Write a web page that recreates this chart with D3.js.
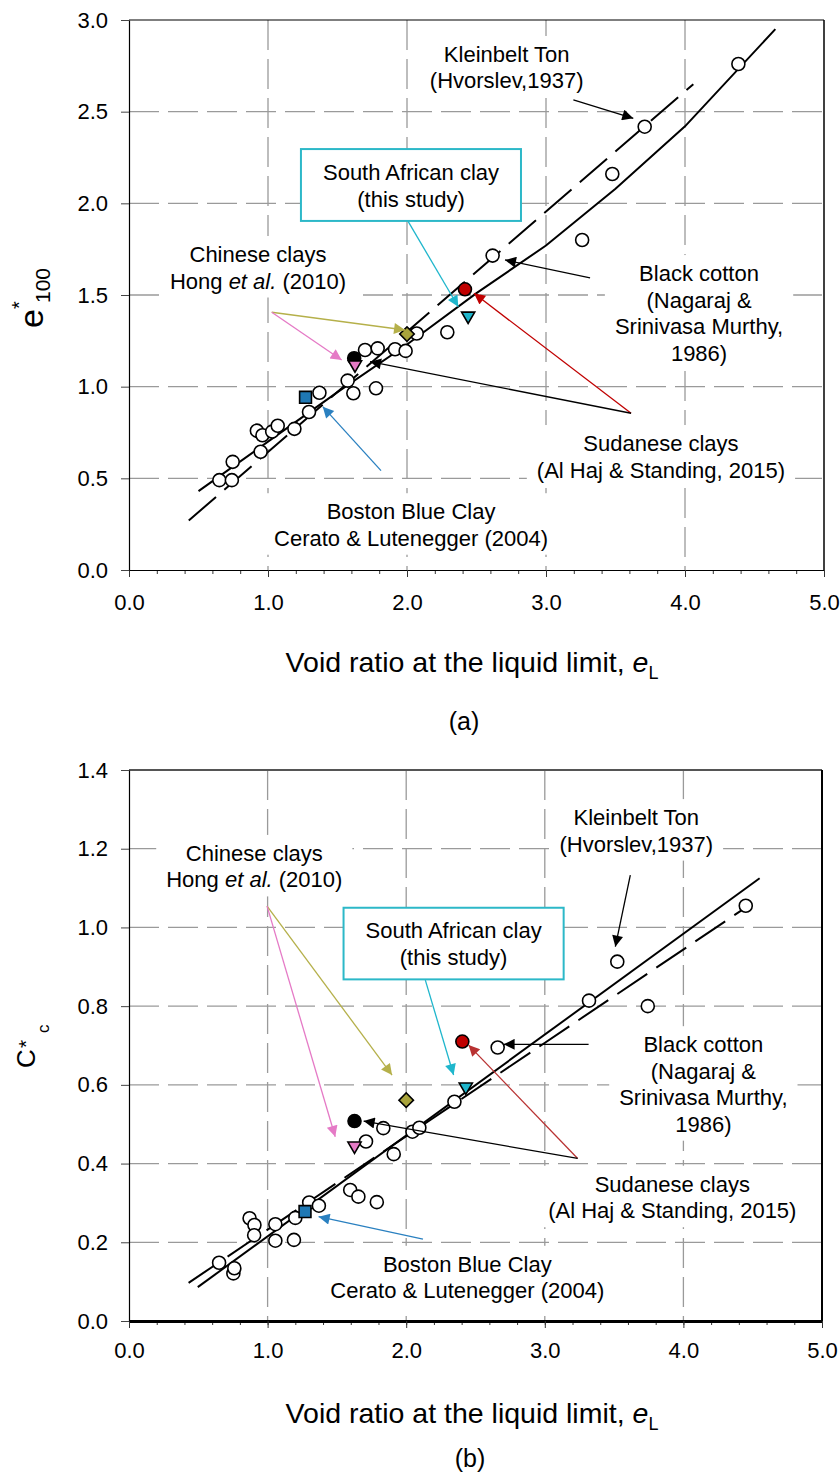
<!DOCTYPE html>
<html>
<head>
<meta charset="utf-8">
<script src="https://cdn.jsdelivr.net/npm/d3@7"></script>
<style>
  body { margin: 0; background: #fff; }
  svg { display: block; font-family: "Liberation Sans", Arial, Helvetica, sans-serif; }
</style>
</head>
<body>
<svg width="840" height="1474"></svg>
<script>
// ---------- data ----------
const xTicks = [0, 1, 2, 3, 4, 5];
const yTicksA = [0, 0.5, 1, 1.5, 2, 2.5, 3];
const yTicksB = [0, 0.2, 0.4, 0.6, 0.8, 1.0, 1.2, 1.4];

// (a) e*100 vs eL
const openA = [
  [0.65, 0.49], [0.74, 0.49], [0.746, 0.59], [0.947, 0.645], [0.92, 0.76],
  [0.96, 0.735], [1.03, 0.755], [1.07, 0.787], [1.19, 0.77], [1.295, 0.862],
  [1.37, 0.967], [1.573, 1.033], [1.614, 0.964], [1.698, 1.2], [1.789, 1.209],
  [1.777, 0.991], [1.914, 1.204], [1.99, 1.195], [2.07, 1.29], [2.29, 1.297],
  [2.616, 1.715], [3.26, 1.80], [3.477, 2.16], [3.71, 2.418], [4.384, 2.76]
];
const sudanBlackA = [[1.62, 1.155]];
const sudanRedA = [[2.417, 1.531]];
const chinaPinkA = [[1.626, 1.12]];
const chinaOliveA = [[2.0, 1.287]];
const southAfricaA = [[2.44, 1.386]];
const bostonA = [[1.27, 0.942]];
const fitSolidA = [[0.5, 0.43], [1.0, 0.70], [1.5, 0.97], [2.0, 1.23], [2.5, 1.51],
  [3.0, 1.77], [3.5, 2.08], [4.0, 2.42], [4.65, 2.95]];
const fitDashedA = [[0.43, 0.27], [4.06, 2.65]];

// (b) C*c vs eL
const openB = [
  [0.65, 0.148], [0.753, 0.121], [0.76, 0.134], [0.87, 0.261], [0.905, 0.244],
  [0.903, 0.218], [1.056, 0.246], [1.056, 0.204], [1.19, 0.206], [1.2, 0.262],
  [1.3, 0.301], [1.37, 0.293], [1.596, 0.333], [1.655, 0.316], [1.788, 0.302],
  [1.91, 0.424], [1.71, 0.456], [1.835, 0.49], [2.045, 0.481], [2.095, 0.491],
  [2.348, 0.557], [2.66, 0.695], [3.319, 0.814], [3.523, 0.913], [3.743, 0.80],
  [4.45, 1.055]
];
const sudanBlackB = [[1.627, 0.508]];
const sudanRedB = [[2.405, 0.71]];
const chinaPinkB = [[1.627, 0.445]];
const chinaOliveB = [[2.0, 0.561]];
const southAfricaB = [[2.43, 0.595]];
const bostonB = [[1.27, 0.278]];
const fitSolidB = [[0.496, 0.086], [4.55, 1.125]];
const fitDashedB = [[0.43, 0.097], [4.43, 1.046]];

// ---------- colours ----------
const C = {
  red: '#c00000', red2: '#b83232', olive: '#a9a43c', oliveLine: '#b5b04a',
  pink: '#e57ac6', cyan: '#1fb6cc', box: '#2cb8c8', blue: '#1f78b4', blueLine: '#2a80c0'
};

// annotations (in data units)
const notesA = [
  { lines: ['Kleinbelt Ton', '(Hvorslev,1937)'], x: 2.717, y: 2.771 },
  { lines: ['Chinese clays', 'Hong _et al._ (2010)'], x: 0.928, y: 1.68 },
  { lines: ['Black cotton', '(Nagaraj &', 'Srinivasa Murthy,', '1986)'], x: 4.101, y: 1.576 },
  { lines: ['Sudanese clays', '(Al Haj & Standing, 2015)'], x: 3.827, y: 0.649 },
  { lines: ['Boston Blue Clay', 'Cerato & Lutenegger (2004)'], x: 2.029, y: 0.277 },
  { lines: ['South African clay', '(this study)'], x: 2.029, y: 2.127, box: [1.237, 2.820, 1.904, 2.296] }
];
const arrowsA = [
  { from: [3.197, 2.564], to: [3.628, 2.464], color: '#000' },
  { from: [2.009, 1.900], to: [2.369, 1.436], color: C.cyan },
  { from: [1.027, 1.406], to: [1.986, 1.309], color: C.oliveLine },
  { from: [1.027, 1.406], to: [1.530, 1.145], color: C.pink },
  { from: [3.317, 1.594], to: [2.705, 1.691], color: '#000' },
  { from: [3.612, 0.855], to: [2.482, 1.509], color: C.red },
  { from: [3.612, 0.855], to: [1.734, 1.136], color: '#000' },
  { from: [1.813, 0.542], to: [1.394, 0.891], color: C.blueLine }
];
const notesB = [
  { lines: ['Kleinbelt Ton', '(Hvorslev,1937)'], x: 3.660, y: 1.260 },
  { lines: ['Chinese clays', 'Hong _et al._ (2010)'], x: 0.904, y: 1.169 },
  { lines: ['Black cotton', '(Nagaraj &', 'Srinivasa Murthy,', '1986)'], x: 4.144, y: 0.683 },
  { lines: ['Sudanese clays', '(Al Haj & Standing, 2015)'], x: 3.920, y: 0.3285 },
  { lines: ['Boston Blue Clay', 'Cerato & Lutenegger (2004)'], x: 2.441, y: 0.125 },
  { lines: ['South African clay', '(this study)'], x: 2.342, y: 0.973, box: [1.548, 3.136, 0.868, 1.050] }
];
const arrowsB = [
  { from: [3.617, 1.133], to: [3.509, 0.951], color: '#000' },
  { from: [0.996, 1.054], to: [1.898, 0.625], color: C.oliveLine },
  { from: [0.996, 1.054], to: [1.488, 0.468], color: C.pink },
  { from: [2.138, 0.866], to: [2.342, 0.625], color: C.cyan },
  { from: [3.316, 0.703], to: [2.703, 0.703], color: '#000' },
  { from: [3.237, 0.413], to: [2.450, 0.701], color: C.red2 },
  { from: [3.237, 0.413], to: [1.693, 0.508], color: '#000' },
  { from: [2.121, 0.208], to: [1.368, 0.265], color: C.blueLine }
];

// ---------- drawing ----------
const svg = d3.select('svg');
const defs = svg.append('defs');
const markerIds = {};
function arrowMarker(color) {
  if (markerIds[color]) return markerIds[color];
  const id = 'ah' + Object.keys(markerIds).length;
  defs.append('marker')
    .attr('id', id).attr('viewBox', '0 0 10 10')
    .attr('refX', 10).attr('refY', 5)
    .attr('markerWidth', 15).attr('markerHeight', 11)
    .attr('markerUnits', 'userSpaceOnUse').attr('orient', 'auto')
    .append('path').attr('d', 'M0,0L10,5L0,10z').attr('fill', color);
  markerIds[color] = id;
  return id;
}

function drawPanel(p) {
  const g = svg.append('g').attr('transform', `translate(${p.left},${p.top})`);
  const x = d3.scaleLinear().domain([0, 5]).range([0, p.width]);
  const y = d3.scaleLinear().domain(p.yDomain).range([p.height, 0]);

  // dashed grid
  const grid = g.append('g').attr('stroke', '#9a9a9a').attr('stroke-width', 1.3)
    .attr('stroke-dasharray', '30,9');
  grid.selectAll('line.h').data(p.yTicks.slice(1, -1)).join('line')
    .attr('x1', 0).attr('x2', p.width)
    .attr('y1', d => y(d)).attr('y2', d => y(d));
  grid.selectAll('line.v').data(xTicks.slice(1, -1)).join('line')
    .attr('y1', 0).attr('y2', p.height)
    .attr('x1', d => x(d)).attr('x2', d => x(d));

  // text blocks with white backing
  p.notes.forEach(n => {
    const ng = g.append('g');
    const bg = ng.append('rect').attr('fill', '#fff');
    const t = ng.append('text').attr('text-anchor', 'middle')
      .attr('font-size', 22).attr('fill', '#000');
    n.lines.forEach((line, i) => {
      const parts = line.split('_');
      parts.forEach((s, k) => {
        const ts = t.append('tspan').text(s);
        if (k === 0) ts.attr('x', x(n.x)).attr('y', y(n.y) + i * 26.5);
        if (k % 2 === 1) ts.attr('font-style', 'italic');
      });
    });
    if (n.box) {
      bg.attr('x', x(n.box[0])).attr('width', x(n.box[1]) - x(n.box[0]))
        .attr('y', y(n.box[3])).attr('height', y(n.box[2]) - y(n.box[3]))
        .attr('stroke', C.box).attr('stroke-width', 2);
    } else {
      const b = t.node().getBBox();
      bg.attr('x', b.x - 10).attr('y', b.y - 6)
        .attr('width', b.width + 20).attr('height', b.height + 10);
    }
  });

  // frame
  g.append('line').attr('x1', 0).attr('x2', p.width).attr('y1', 0).attr('y2', 0)
    .attr('stroke', p.topColor).attr('stroke-width', p.topWidth);
  g.append('line').attr('x1', p.width).attr('x2', p.width).attr('y1', 0).attr('y2', p.height)
    .attr('stroke', '#000').attr('stroke-width', p.rightWidth);

  // axes
  const minor = g.append('g').attr('transform', `translate(0,${p.height})`)
    .call(d3.axisBottom(x).tickValues(d3.range(0, 5.01, 0.2)).tickFormat('')
      .tickSize(4).tickSizeOuter(0));
  minor.select('.domain').remove();
  minor.selectAll('line').attr('stroke', '#333');

  const xa = g.append('g').attr('transform', `translate(0,${p.height})`)
    .call(d3.axisBottom(x).tickValues(xTicks).tickFormat(d3.format('.1f'))
      .tickSize(7).tickSizeOuter(0).tickPadding(p.xPad));
  xa.select('.domain').attr('stroke', '#000').attr('stroke-width', p.bottomWidth);
  xa.selectAll('.tick line').attr('stroke', '#333');
  xa.selectAll('text').attr('font-size', 22).attr('font-family', null).attr('fill', '#000');

  const ya = g.append('g')
    .call(d3.axisLeft(y).tickValues(p.yTicks).tickFormat(d3.format('.1f'))
      .tickSize(8).tickSizeOuter(0).tickPadding(13));
  ya.select('.domain').attr('stroke', '#000').attr('stroke-width', 1.2);
  ya.selectAll('.tick line').attr('stroke', '#444');
  ya.selectAll('text').attr('font-size', 22).attr('font-family', null).attr('fill', '#000');

  // fit lines
  const line = d3.line().x(d => x(d[0])).y(d => y(d[1]));
  g.append('path').datum(p.fitDashed).attr('d', line).attr('fill', 'none')
    .attr('stroke', '#000').attr('stroke-width', 2).attr('stroke-dasharray', '36,11');
  g.append('path').datum(p.fitSolid).attr('d', line).attr('fill', 'none')
    .attr('stroke', '#000').attr('stroke-width', 2);

  // markers
  const pts = g.append('g').attr('stroke', '#000').attr('stroke-width', 1.6);
  pts.selectAll('circle.o').data(p.open).join('circle')
    .attr('cx', d => x(d[0])).attr('cy', d => y(d[1])).attr('r', 6.5).attr('fill', '#fff');
  pts.selectAll('circle.k').data(p.sudanBlack).join('circle')
    .attr('cx', d => x(d[0])).attr('cy', d => y(d[1])).attr('r', 6.5).attr('fill', '#000');
  pts.selectAll('circle.r').data(p.sudanRed).join('circle')
    .attr('cx', d => x(d[0])).attr('cy', d => y(d[1])).attr('r', 6.5).attr('fill', C.red);
  const tri = d3.symbol().type(d3.symbolTriangle).size(75);
  pts.selectAll('path.p').data(p.chinaPink).join('path').attr('d', tri)
    .attr('transform', d => `translate(${x(d[0])},${y(d[1])}) rotate(180)`).attr('fill', C.pink);
  pts.selectAll('path.c').data(p.southAfrica).join('path').attr('d', tri)
    .attr('transform', d => `translate(${x(d[0])},${y(d[1])}) rotate(180)`).attr('fill', C.cyan);
  const sq = d3.symbol().type(d3.symbolSquare);
  pts.selectAll('path.d').data(p.chinaOlive).join('path').attr('d', sq.size(105))
    .attr('transform', d => `translate(${x(d[0])},${y(d[1])}) rotate(45)`).attr('fill', C.olive);
  pts.selectAll('path.b').data(p.boston).join('path').attr('d', sq.size(140))
    .attr('transform', d => `translate(${x(d[0])},${y(d[1])})`).attr('fill', C.blue);

  // arrows
  g.append('g').selectAll('line').data(p.arrows).join('line')
    .attr('x1', d => x(d.from[0])).attr('y1', d => y(d.from[1]))
    .attr('x2', d => x(d.to[0])).attr('y2', d => y(d.to[1]))
    .attr('stroke', d => d.color).attr('stroke-width', 1.3)
    .attr('marker-end', d => `url(#${arrowMarker(d.color)})`);

  // x title and panel tag
  const tt = g.append('text').attr('text-anchor', 'middle').attr('font-size', 28.5)
    .attr('x', p.titleX).attr('y', p.titleY);
  tt.append('tspan').text('Void ratio at the liquid limit, ');
  tt.append('tspan').attr('font-style', 'italic').text('e');
  tt.append('tspan').attr('font-size', 18).attr('dy', 7).text('L');
  g.append('text').attr('text-anchor', 'middle').attr('font-size', 25)
    .attr('x', p.tagX).attr('y', p.tagY).text(p.tag);

  return g;
}

drawPanel({
  left: 129, top: 20, width: 695, height: 550, yDomain: [0, 3], yTicks: yTicksA,
  open: openA, sudanBlack: sudanBlackA, sudanRed: sudanRedA, chinaPink: chinaPinkA,
  chinaOlive: chinaOliveA, southAfrica: southAfricaA, boston: bostonA,
  fitSolid: fitSolidA, fitDashed: fitDashedA, notes: notesA, arrows: arrowsA,
  topColor: '#000', topWidth: 1.2, rightWidth: 1.5, bottomWidth: 1.2, xPad: 17,
  titleX: 343, titleY: 652, tagX: 335, tagY: 710, tag: '(a)'
});
drawPanel({
  left: 129, top: 770, width: 693, height: 551, yDomain: [0, 1.4], yTicks: yTicksB,
  open: openB, sudanBlack: sudanBlackB, sudanRed: sudanRedB, chinaPink: chinaPinkB,
  chinaOlive: chinaOliveB, southAfrica: southAfricaB, boston: bostonB,
  fitSolid: fitSolidB, fitDashed: fitDashedB, notes: notesB, arrows: arrowsB,
  topColor: '#555', topWidth: 2, rightWidth: 2, bottomWidth: 3, xPad: 14,
  titleX: 343, titleY: 653, tagX: 341, tagY: 697, tag: '(b)'
});

// y-axis titles
const la = svg.append('g').attr('transform', 'translate(43,328) rotate(-90)');
la.append('text').attr('font-size', 34).text('e');
la.append('text').attr('font-size', 20).attr('x', 19).attr('y', -17).text('*');
la.append('text').attr('font-size', 21).attr('x', 25).attr('y', 7).text('100');

const lb = svg.append('g').attr('transform', 'translate(35,1068) rotate(-90)');
lb.append('text').attr('font-size', 26).text('C');
lb.append('text').attr('font-size', 21).attr('x', 20).attr('y', -2).text('*');
lb.append('text').attr('font-size', 17).attr('x', 35).attr('y', 14).text('c');
</script>
</body>
</html>
